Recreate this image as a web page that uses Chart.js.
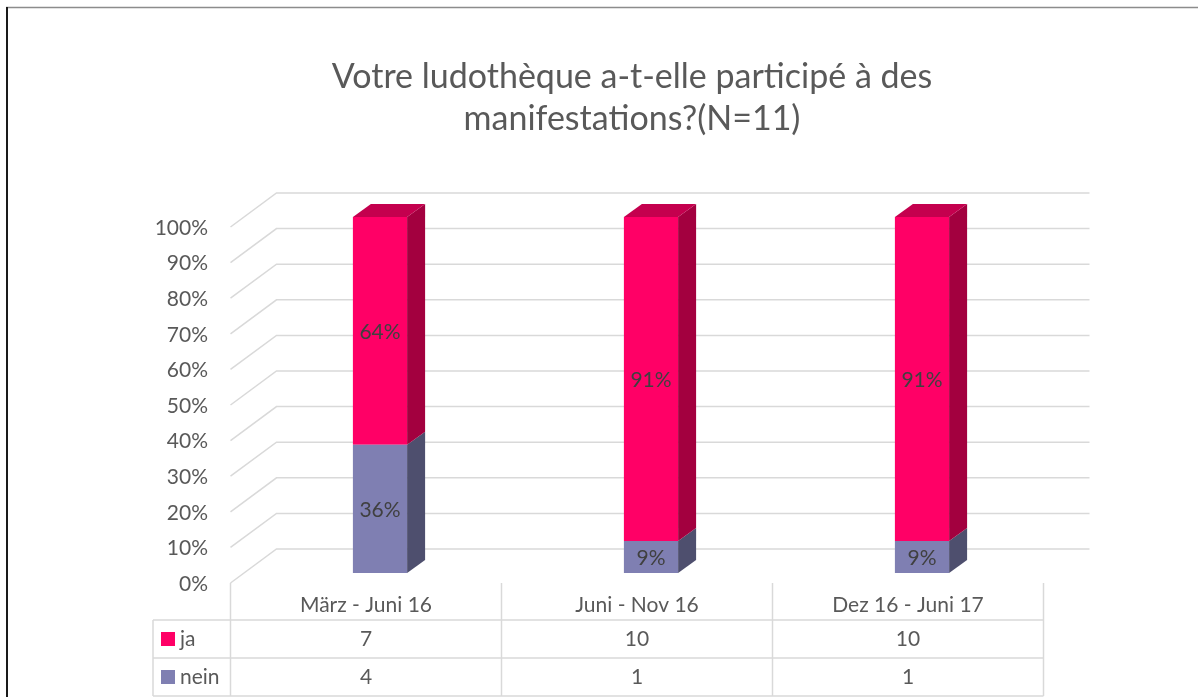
<!DOCTYPE html>
<html lang="fr">
<head>
    <meta charset="UTF-8">
    <title>Votre ludothèque a-t-elle participé à des manifestations?</title>
    <script src="https://cdn.jsdelivr.net/npm/chart.js"></script>
    <style>
        body {
            margin: 0;
            background-color: white;
        }
        canvas {
            display: block;
        }
    </style>
</head>
<body>
    <canvas id="manifChart" width="1198" height="697"></canvas>

    <script>
        // Data
        const categories = ['März - Juni 16', 'Juni - Nov 16', 'Dez 16 - Juni 17'];
        const jaCounts = [7, 10, 10];
        const neinCounts = [4, 1, 1];
        const jaPercent = [64, 91, 91];
        const neinPercent = [36, 9, 9];
        const yTicks = [0, 10, 20, 30, 40, 50, 60, 70, 80, 90, 100];
        const titleLines = ['Votre ludothèque a-t-elle participé à des', 'manifestations?(N=11)'];

        const FONT = 'Lato, "Open Sans", sans-serif';
        const TEXT = '#595959';
        const GRID = '#d9d9d9';

        // 3D offsets relative to the bar front face
        const FRONT = { dx: -14, dy: 10 };
        const BACK = { dx: 32, dy: -24 };
        const DEPTH = { dx: 18, dy: -13 };

        const colors = {
            ja: { front: '#FF0066', side: '#A3003F', top: '#C4004E' },
            nein: { front: '#7F7FB2', side: '#4E4F6E', top: '#6A6A99' }
        };

        function poly(ctx, pts, fill) {
            ctx.beginPath();
            ctx.moveTo(pts[0][0], pts[0][1]);
            for (let i = 1; i < pts.length; i++) ctx.lineTo(pts[i][0], pts[i][1]);
            ctx.closePath();
            ctx.fillStyle = fill;
            ctx.fill();
        }

        const decoPlugin = {
            id: 'deco',
            beforeDatasetsDraw(chart) {
                const ctx = chart.ctx;
                const area = chart.chartArea;
                const y = chart.scales.y;

                ctx.save();
                ctx.fillStyle = 'white';
                ctx.fillRect(0, 0, chart.width, chart.height);

                // outer frame
                ctx.strokeStyle = '#8c8c8c';
                ctx.lineWidth = 1.5;
                ctx.beginPath();
                ctx.moveTo(6, 7.5);
                ctx.lineTo(chart.width, 7.5);
                ctx.stroke();
                ctx.strokeStyle = '#1a1a1a';
                ctx.lineWidth = 2;
                ctx.beginPath();
                ctx.moveTo(7, 7);
                ctx.lineTo(7, chart.height);
                ctx.stroke();

                // title
                ctx.fillStyle = TEXT;
                ctx.font = '34px ' + FONT;
                ctx.textAlign = 'center';
                ctx.textBaseline = 'middle';
                ctx.fillText(titleLines[0], 632, 77);
                ctx.fillText(titleLines[1], 632, 119);

                // gridlines: floor diagonal + back wall
                ctx.strokeStyle = GRID;
                ctx.lineWidth = 1.5;
                const xf = area.left + FRONT.dx;
                const xb = area.left + BACK.dx;
                const xe = area.right + BACK.dx;
                yTicks.forEach(v => {
                    const py = y.getPixelForValue(v);
                    ctx.beginPath();
                    ctx.moveTo(xf, py + FRONT.dy);
                    ctx.lineTo(xb, py + BACK.dy);
                    ctx.lineTo(xe, py + BACK.dy);
                    ctx.stroke();
                });

                // y tick labels
                ctx.fillStyle = TEXT;
                ctx.font = '21px ' + FONT;
                ctx.textAlign = 'right';
                yTicks.forEach(v => {
                    ctx.fillText(v + '%', 208, y.getPixelForValue(v) + FRONT.dy + 1);
                });

                // data table
                const tLeft = area.left + FRONT.dx;
                const step = (area.right - area.left) / categories.length;
                const tTop = y.getPixelForValue(0) + FRONT.dy;
                const rows = [620, 658, 696];
                const legLeft = 153;
                ctx.beginPath();
                for (let i = 0; i <= categories.length; i++) {
                    ctx.moveTo(tLeft + i * step, tTop);
                    ctx.lineTo(tLeft + i * step, rows[2]);
                }
                rows.forEach(r => {
                    ctx.moveTo(legLeft, r);
                    ctx.lineTo(tLeft + categories.length * step, r);
                });
                ctx.moveTo(legLeft, rows[0]);
                ctx.lineTo(legLeft, rows[2]);
                ctx.stroke();

                ctx.fillStyle = TEXT;
                ctx.font = '21px ' + FONT;
                ctx.textAlign = 'center';
                categories.forEach((c, i) => {
                    const cx = tLeft + (i + 0.5) * step;
                    ctx.fillText(c, cx, 605);
                    ctx.fillText(String(jaCounts[i]), cx, 639);
                    ctx.fillText(String(neinCounts[i]), cx, 677);
                });

                // legend keys
                ctx.fillStyle = colors.ja.front;
                ctx.fillRect(161, 632, 14, 14);
                ctx.fillStyle = colors.nein.front;
                ctx.fillRect(161, 670, 14, 14);
                ctx.fillStyle = TEXT;
                ctx.textAlign = 'left';
                ctx.fillText('ja', 180, 639);
                ctx.fillText('nein', 180, 677);
                ctx.restore();
            },
            afterDatasetsDraw(chart) {
                const ctx = chart.ctx;
                const keys = ['nein', 'ja'];
                ctx.save();
                chart.data.datasets.forEach((ds, di) => {
                    const col = colors[keys[di]];
                    chart.getDatasetMeta(di).data.forEach(bar => {
                        const p = bar.getProps(['x', 'y', 'base', 'width'], true);
                        const l = p.x - p.width / 2;
                        const r = p.x + p.width / 2;
                        poly(ctx, [[r, p.y], [r + DEPTH.dx, p.y + DEPTH.dy],
                            [r + DEPTH.dx, p.base + DEPTH.dy], [r, p.base]], col.side);
                        if (di === chart.data.datasets.length - 1) {
                            poly(ctx, [[l, p.y], [l + DEPTH.dx, p.y + DEPTH.dy],
                                [r + DEPTH.dx, p.y + DEPTH.dy], [r, p.y]], col.top);
                        }
                    });
                });

                // data labels
                ctx.fillStyle = '#404040';
                ctx.font = '21px ' + FONT;
                ctx.textAlign = 'center';
                ctx.textBaseline = 'middle';
                chart.data.datasets.forEach((ds, di) => {
                    chart.getDatasetMeta(di).data.forEach((bar, i) => {
                        const p = bar.getProps(['x', 'y', 'base'], true);
                        ctx.fillText(ds.data[i] + '%', p.x, (p.y + p.base) / 2 + 1);
                    });
                });
                ctx.restore();
            }
        };

        const ctx = document.getElementById('manifChart').getContext('2d');
        const chart = new Chart(ctx, {
            type: 'bar',
            data: {
                labels: categories,
                datasets: [{
                    label: 'nein',
                    data: neinPercent,
                    backgroundColor: colors.nein.front
                }, {
                    label: 'ja',
                    data: jaPercent,
                    backgroundColor: colors.ja.front
                }]
            },
            options: {
                responsive: false,
                animation: false,
                devicePixelRatio: 1,
                layout: {
                    padding: { top: 217, bottom: 124, left: 244.5, right: 140.5 }
                },
                datasets: {
                    bar: { categoryPercentage: 1, barPercentage: 0.2 }
                },
                scales: {
                    x: { stacked: true, display: false },
                    y: { stacked: true, display: false, min: 0, max: 100 }
                },
                plugins: {
                    legend: { display: false },
                    title: { display: false },
                    tooltip: { enabled: false }
                }
            },
            plugins: [decoPlugin]
        });
    </script>
</body>
</html>
